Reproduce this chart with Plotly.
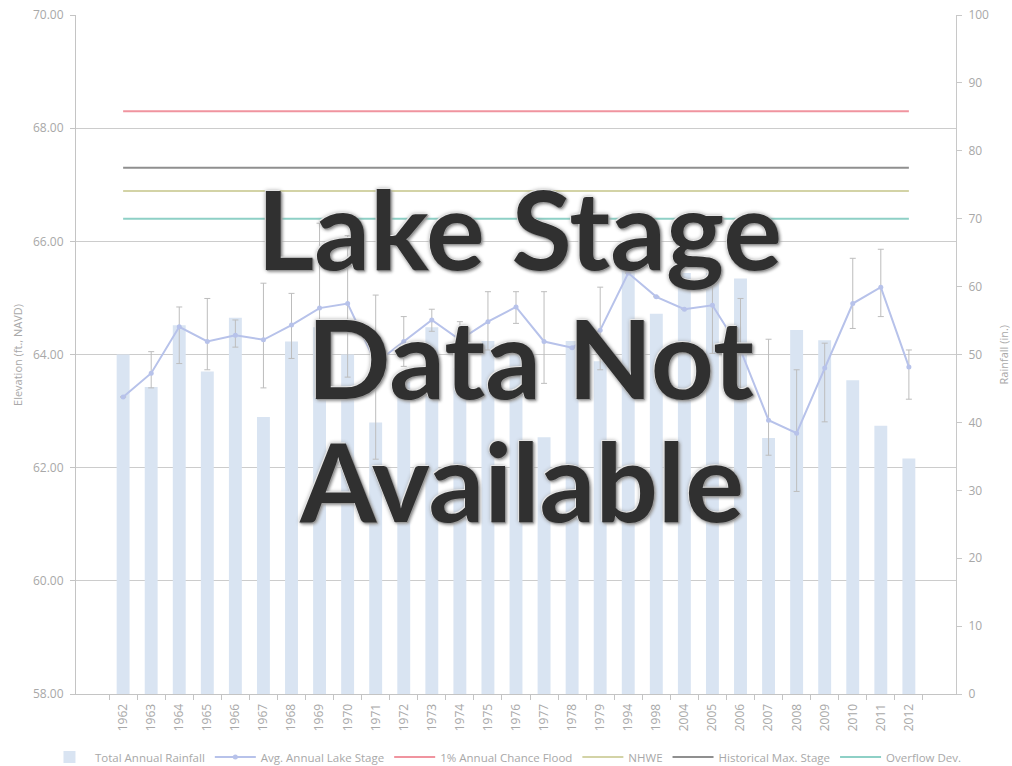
import plotly.graph_objects as go

years = ["1962", "1963", "1964", "1965", "1966", "1967", "1968", "1969", "1970",
         "1971", "1972", "1973", "1974", "1975", "1976", "1977", "1978", "1979",
         "1994", "1998", "2004", "2005", "2006", "2007", "2008", "2009", "2010",
         "2011", "2012"]

rainfall = [50.0, 45.2, 54.3, 47.5, 55.4, 40.8, 51.9, 54.0, 50.0,
            40.0, 46.0, 54.0, 48.0, 52.0, 50.0, 37.8, 52.0, 49.0,
            62.5, 56.0, 62.0, 62.0, 61.2, 37.7, 53.6, 52.1, 46.2,
            39.5, 34.7]

lake_stage = [63.25, 63.67, 64.49, 64.23, 64.34, 64.26, 64.52, 64.82, 64.90,
              63.85, 64.23, 64.61, 64.26, 64.58, 64.84, 64.23, 64.12, 64.43,
              65.44, 65.02, 64.80, 64.87, 64.08, 62.84, 62.61, 63.76, 64.90,
              65.19, 63.78]

stage_err_plus = [0.0, 0.38, 0.35, 0.76, 0.27, 1.00, 0.56, 1.50, 1.20,
                  1.20, 0.44, 0.19, 0.32, 0.53, 0.27, 0.88, 0.0, 0.76,
                  0.0, 0.0, 0.0, 0.68, 0.91, 1.43, 1.12, 0.44, 0.80,
                  0.67, 0.30]

stage_err_minus = [0.0, 0.26, 0.65, 0.50, 0.21, 0.85, 0.59, 1.50, 1.30,
                   1.70, 0.44, 0.20, 0.30, 0.50, 0.29, 0.74, 0.0, 0.70,
                   0.0, 0.0, 0.0, 0.85, 0.85, 0.62, 1.03, 0.95, 0.44,
                   0.52, 0.57]

flood_1pct = 68.30
nhwe = 66.89
hist_max_stage = 67.30
overflow_dev = 66.40

overlay_lines = ["Lake Stage", "Data Not", "Available"]

tick_color = "#a8a8a8"
base_font = "Open Sans"

fig = go.Figure()

fig.add_trace(go.Bar(
    x=years, y=rainfall, name="Total Annual Rainfall",
    marker=dict(color="#d9e4f2", line=dict(width=0)),
    yaxis="y",
))

fig.add_trace(go.Scatter(
    x=years, y=lake_stage, name="Avg. Annual Lake Stage",
    mode="lines+markers",
    line=dict(color="#b7c2ea", width=2),
    marker=dict(color="#b7c2ea", size=5, symbol="circle"),
    error_y=dict(type="data", symmetric=False, array=stage_err_plus,
                 arrayminus=stage_err_minus, color="#bdbdbd",
                 thickness=1, width=3),
    yaxis="y2",
))

ref_lines = [
    ("1% Annual Chance Flood", flood_1pct, "#f0949f"),
    ("NHWE", nhwe, "#d3d3a6"),
    ("Historical Max. Stage", hist_max_stage, "#8f8f8f"),
    ("Overflow Dev.", overflow_dev, "#8ed0c6"),
]
for name, val, col in ref_lines:
    fig.add_trace(go.Scatter(
        x=years, y=[val] * len(years), name=name, mode="lines",
        line=dict(color=col, width=2), yaxis="y2",
    ))

# overlay text
overlay_pos = [(0.5045, 0.6878), (0.517, 0.4978), (0.5057, 0.3166)]
for txt, (px, py) in zip(overlay_lines, overlay_pos):
    fig.add_annotation(
        text=txt, xref="paper", yref="paper", x=px, y=py,
        xanchor="center", yanchor="middle", showarrow=False,
        font=dict(family="Lato", size=110, color="#303030", weight="bold",
                  shadow="-1px -1px 0 #e6e6e6, 1px 1px 0 #9a9a9a, 0 0 4px #8a8a8a, 2px 2px 3px #aaaaaa"),
    )

# axis titles
fig.add_annotation(text="Elevation (ft., NAVD)", xref="paper", yref="paper",
                   x=-0.0665, y=0.5, xanchor="center", yanchor="middle",
                   textangle=-90, showarrow=False,
                   font=dict(size=11, color=tick_color, family=base_font))
fig.add_annotation(text="Rainfall (in.)", xref="paper", yref="paper",
                   x=1.0545, y=0.5, xanchor="center", yanchor="middle",
                   textangle=-90, showarrow=False,
                   font=dict(size=11, color=tick_color, family=base_font))

fig.update_layout(
    width=1012, height=766,
    margin=dict(l=76, r=56, t=15, b=72, autoexpand=False),
    paper_bgcolor="white", plot_bgcolor="white",
    font=dict(family=base_font, size=12, color=tick_color),
    bargap=0.54,
    showlegend=True,
    legend=dict(orientation="h", x=-0.0364, xanchor="left", y=-0.0928,
                yanchor="middle", font=dict(size=11.5, color=tick_color),
                bgcolor="rgba(0,0,0,0)", tracegroupgap=0, itemwidth=41),
    xaxis=dict(type="category", tickangle=-90, ticks="outside",
               tickson="boundaries", ticklen=5, tickcolor="#c4c4c4",
               showline=True, linecolor="#c4c4c4", showgrid=False,
               automargin=False, ticklabelstandoff=4,
               tickfont=dict(size=12, color=tick_color)),
    yaxis=dict(side="right", range=[0, 100], dtick=10, ticks="outside",
               ticklen=5, tickcolor="#c8c8c8", showline=True,
               linecolor="#c8c8c8", showgrid=False, zeroline=False,
               automargin=False, ticklabelstandoff=4,
               ticklabeloverflow="allow",
               tickfont=dict(size=12, color=tick_color)),
    yaxis2=dict(overlaying="y", side="left", range=[58, 70], dtick=2,
                tickformat=".2f", ticks="outside", ticklen=5,
                tickcolor="#c4c4c4", showline=True, linecolor="#c4c4c4",
                showgrid=True, gridcolor="#cccccc", gridwidth=1,
                zeroline=False, automargin=False, ticklabelstandoff=4,
                ticklabeloverflow="allow",
                tickfont=dict(size=12, color=tick_color)),
)

fig.write_html("out.html", config={"displayModeBar": False},
               post_script="document.body.style.margin='0';document.body.style.overflow='hidden';")
